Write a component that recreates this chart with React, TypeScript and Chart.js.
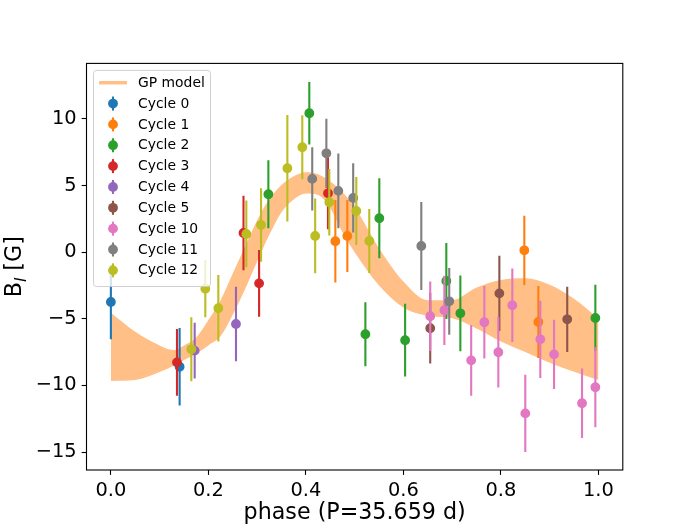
import React, { useEffect, useRef } from "react";
import { Chart, registerables } from "chart.js";

Chart.register(...registerables);

const FONT = "'DejaVu Sans', sans-serif";

// GP model band (upper / lower envelope)
const gpPhase = [0, 0.05, 0.1, 0.13, 0.15, 0.175, 0.2, 0.225, 0.25, 0.275, 0.3, 0.325, 0.35, 0.375, 0.4, 0.425, 0.45, 0.475, 0.5, 0.55, 0.6, 0.65, 0.7, 0.75, 0.8, 0.85, 0.9, 0.95, 1.0];
const gpUpper = [-4.54, -5.97, -7.0, -7.35, -7.0, -6.4, -5.1, -3.6, -1.6, 0.4, 2.4, 4.0, 5.05, 5.7, 6.0, 5.85, 5.3, 4.5, 3.4, 0.3, -2.2, -3.6, -3.6, -2.65, -2.08, -1.96, -2.45, -3.5, -5.0];
const gpLower = [-9.67, -9.6, -9.0, -8.5, -8.1, -7.6, -7.0, -6.3, -4.7, -2.8, -0.7, 1.3, 3.0, 3.95, 4.4, 4.3, 3.3, 1.5, 0.0, -2.5, -4.15, -4.77, -4.96, -5.72, -6.7, -7.5, -8.3, -8.98, -9.6];

// observations per cycle: phase, B_l, error
const c0Phase = [0.0, 0.141];
const c0B = [-3.74, -8.6];
const c0Err = [2.8, 2.9];

const c1Phase = [0.4604, 0.485, 0.848, 0.8768];
const c1B = [0.82, 1.22, 0.14, -5.24];
const c1Err = [3.1, 2.7, 2.6, 2.7];

const c2Phase = [0.323, 0.407, 0.522, 0.5506, 0.6035, 0.688, 0.7168, 0.9937];
const c2B = [4.35, 10.43, -6.16, 2.55, -6.61, -2.16, -4.59, -4.94];
const c2Err = [2.55, 2.35, 2.4, 3.0, 2.73, 2.85, 2.84, 2.5];

const c3Phase = [0.1356, 0.272, 0.304, 0.4453];
const c3B = [-8.27, 1.44, -2.34, 4.42];
const c3Err = [2.5, 2.8, 2.5, 2.7];

const c4Phase = [0.1719, 0.2566];
const c4B = [-7.39, -5.39];
const c4Err = [2.1, 2.8];

const c5Phase = [0.655, 0.7968, 0.936];
const c5B = [-5.71, -3.09, -5.04];
const c5Err = [2.65, 2.83, 2.45];

const c10Phase = [0.655, 0.684, 0.739, 0.766, 0.7947, 0.8234, 0.85, 0.8808, 0.909, 0.9664, 0.9937];
const c10B = [-4.81, -4.36, -8.12, -5.26, -7.51, -3.99, -12.1, -6.54, -7.67, -11.34, -10.14];
const c10Err = [2.6, 2.6, 2.65, 2.73, 2.65, 2.76, 2.9, 2.9, 2.6, 2.6, 3.0];

const c11Phase = [0.413, 0.442, 0.4665, 0.497, 0.6367, 0.694];
const c11B = [5.5, 7.42, 4.6, 4.07, 0.47, -3.69];
const c11Err = [2.38, 2.6, 2.8, 2.6, 3.3, 2.5];

const c12Phase = [0.165, 0.1937, 0.2204, 0.2778, 0.308, 0.362, 0.3926, 0.419, 0.448, 0.5034, 0.53];
const c12B = [-7.29, -2.74, -4.21, 1.37, 2.04, 6.3, 7.88, 1.22, 3.75, 3.09, 0.84];
const c12Err = [2.4, 2.15, 2.5, 2.5, 2.75, 4.0, 2.4, 2.8, 2.5, 2.55, 2.4];

const cycleLabels = ["Cycle 0", "Cycle 1", "Cycle 2", "Cycle 3", "Cycle 4", "Cycle 5", "Cycle 10", "Cycle 11", "Cycle 12"];
const cycleColors = ["#1f77b4", "#ff7f0e", "#2ca02c", "#d62728", "#9467bd", "#8c564b", "#e377c2", "#7f7f7f", "#bcbd22"];
const cyclePhases = [c0Phase, c1Phase, c2Phase, c3Phase, c4Phase, c5Phase, c10Phase, c11Phase, c12Phase];
const cycleValues = [c0B, c1B, c2B, c3B, c4B, c5B, c10B, c11B, c12B];
const cycleErrors = [c0Err, c1Err, c2Err, c3Err, c4Err, c5Err, c10Err, c11Err, c12Err];

const xTicks = [0, 0.2, 0.4, 0.6, 0.8, 1.0];
const yTicks = [-15, -10, -5, 0, 5, 10];

const gpColor = "#ffbf86";

// vertical error bars, drawn just before each dataset's markers
const errorBarPlugin = {
  id: "errorBars",
  beforeDatasetDraw(chart: any, args: any) {
    const ds = chart.data.datasets[args.index];
    if (!ds.errs) return;
    const { ctx, chartArea } = chart;
    const yScale = chart.scales.y;
    ctx.save();
    ctx.beginPath();
    ctx.rect(chartArea.left, chartArea.top, chartArea.width, chartArea.height);
    ctx.clip();
    ctx.strokeStyle = ds.backgroundColor;
    ctx.lineWidth = 2.1;
    args.meta.data.forEach((pt: any, i: number) => {
      const v = ds.data[i].y;
      const e = ds.errs[i];
      ctx.beginPath();
      ctx.moveTo(pt.x, yScale.getPixelForValue(v + e));
      ctx.lineTo(pt.x, yScale.getPixelForValue(v - e));
      ctx.stroke();
    });
    ctx.restore();
  },
};

// frame, y label and legend box
const decorPlugin = {
  id: "decor",
  afterDraw(chart: any) {
    const { ctx, chartArea } = chart;
    ctx.save();
    ctx.strokeStyle = "#000";
    ctx.lineWidth = 1.1;
    ctx.strokeRect(chartArea.left, chartArea.top, chartArea.width, chartArea.height);

    // y axis label: B_l [G]
    ctx.translate(0, (chartArea.top + chartArea.bottom) / 2);
    ctx.rotate(-Math.PI / 2);
    ctx.fillStyle = "#000";
    ctx.textBaseline = "alphabetic";
    const mainFont = `22.2px ${FONT}`;
    const subFont = `italic 15.5px ${FONT}`;
    ctx.font = mainFont;
    const wB = ctx.measureText("B").width;
    const wRest = ctx.measureText(" [G]").width;
    ctx.font = subFont;
    const wSub = ctx.measureText("l").width;
    let u = -(wB + wSub + wRest) / 2;
    const v = 21;
    ctx.font = mainFont;
    ctx.fillText("B", u, v);
    u += wB;
    ctx.font = subFont;
    ctx.fillText("l", u, v + 4.5);
    u += wSub;
    ctx.font = mainFont;
    ctx.fillText(" [G]", u, v);
    ctx.restore();

    // legend
    const items = chart.data.datasets.filter((d: any) => d.label);
    const bx = chartArea.left + 7;
    const by = chartArea.top + 7;
    const rowH = 20.85;
    const bw = 117;
    const bh = 11.6 + items.length * rowH - 4;
    ctx.save();
    ctx.beginPath();
    ctx.roundRect(bx, by, bw, bh, 3);
    ctx.fillStyle = "rgba(255,255,255,0.8)";
    ctx.fill();
    ctx.strokeStyle = "rgba(204,204,204,0.9)";
    ctx.lineWidth = 1;
    ctx.stroke();
    ctx.font = `13.9px ${FONT}`;
    ctx.textBaseline = "middle";
    items.forEach((d: any, i: number) => {
      const cy = by + 12.3 + i * rowH;
      const hx = bx + 5.6;
      const hw = 27.8;
      if (d.errs) {
        ctx.strokeStyle = d.backgroundColor;
        ctx.lineWidth = 2.1;
        ctx.beginPath();
        ctx.moveTo(hx + hw / 2, cy - 7);
        ctx.lineTo(hx + hw / 2, cy + 7);
        ctx.stroke();
        ctx.fillStyle = d.backgroundColor;
        ctx.beginPath();
        ctx.arc(hx + hw / 2, cy, 4.9, 0, Math.PI * 2);
        ctx.fill();
      } else {
        ctx.strokeStyle = d.backgroundColor;
        ctx.lineWidth = 3.5;
        ctx.beginPath();
        ctx.moveTo(hx, cy);
        ctx.lineTo(hx + hw, cy);
        ctx.stroke();
      }
      ctx.fillStyle = "#000";
      ctx.fillText(d.label, hx + hw + 11.1, cy + 0.5);
    });
    ctx.restore();
  },
};

const PhaseCurveChart = () => {
  const chartRef = useRef<HTMLCanvasElement | null>(null);

  useEffect(() => {
    if (!chartRef.current) return;
    const ctx = chartRef.current.getContext("2d");
    if (!ctx) return;

    const bandDatasets: any[] = [
      {
        label: "GP model",
        data: gpPhase.map((p, i) => ({ x: p, y: gpUpper[i] })),
        showLine: true,
        pointRadius: 0,
        borderWidth: 0,
        borderColor: gpColor,
        backgroundColor: gpColor,
        fill: "+1",
        cubicInterpolationMode: "monotone",
        order: 100,
      },
      {
        label: "",
        data: gpPhase.map((p, i) => ({ x: p, y: gpLower[i] })),
        showLine: true,
        pointRadius: 0,
        borderWidth: 0,
        borderColor: gpColor,
        backgroundColor: gpColor,
        fill: false,
        cubicInterpolationMode: "monotone",
        order: 101,
      },
    ];

    const cycleDatasets: any[] = cycleLabels.map((label, i) => ({
      label,
      data: cyclePhases[i].map((p, j) => ({ x: p, y: cycleValues[i][j] })),
      errs: cycleErrors[i],
      backgroundColor: cycleColors[i],
      borderColor: cycleColors[i],
      pointRadius: 4.2,
      pointBorderWidth: 1.4,
      pointHoverRadius: 4.2,
      order: 50 - i,
    }));

    const chart = new Chart(ctx, {
      type: "scatter",
      data: { datasets: [...bandDatasets, ...cycleDatasets] },
      plugins: [errorBarPlugin, decorPlugin],
      options: {
        responsive: true,
        maintainAspectRatio: false,
        animation: false,
        events: [],
        layout: { padding: { left: 0, top: 63.4, right: 69.2, bottom: 0 } },
        plugins: {
          legend: { display: false },
          tooltip: { enabled: false },
        },
        scales: {
          x: {
            type: "linear",
            min: -0.05,
            max: 1.05,
            afterBuildTicks: (axis: any) => {
              axis.ticks = xTicks.map((v) => ({ value: v }));
            },
            afterFit: (axis: any) => {
              axis.height = 58;
            },
            grid: {
              drawOnChartArea: false,
              drawTicks: true,
              tickLength: 4.9,
              tickWidth: 1.1,
              tickColor: "#000",
            },
            border: { display: false },
            ticks: {
              color: "#000",
              padding: 4.9,
              maxRotation: 0,
              autoSkip: false,
              font: { family: FONT, size: 19.4 },
              callback: (value: any) => Number(value).toFixed(1),
            },
            title: {
              display: true,
              text: "phase (P=35.659 d)",
              color: "#000",
              padding: { top: 0, bottom: 1 },
              font: { family: FONT, size: 22.2, lineHeight: 1.2 },
            },
          },
          y: {
            type: "linear",
            min: -16.35,
            max: 14.17,
            afterBuildTicks: (axis: any) => {
              axis.ticks = yTicks.map((v) => ({ value: v }));
            },
            afterFit: (axis: any) => {
              axis.width = 86.5;
            },
            grid: {
              drawOnChartArea: false,
              drawTicks: true,
              tickLength: 4.9,
              tickWidth: 1.1,
              tickColor: "#000",
            },
            border: { display: false },
            ticks: {
              color: "#000",
              padding: 4.9,
              autoSkip: false,
              font: { family: FONT, size: 19.4 },
              callback: (value: any) => (value < 0 ? "\u2212" + Math.abs(value) : String(value)),
            },
          },
        },
      },
    });

    return () => {
      chart.destroy();
    };
  }, []);

  return <canvas ref={chartRef} />;
};

export default function App() {
  return (
    <div style={{ position: "absolute", left: 0, top: 0, width: 692, height: 528, background: "#fff" }}>
      <PhaseCurveChart />
    </div>
  );
}
